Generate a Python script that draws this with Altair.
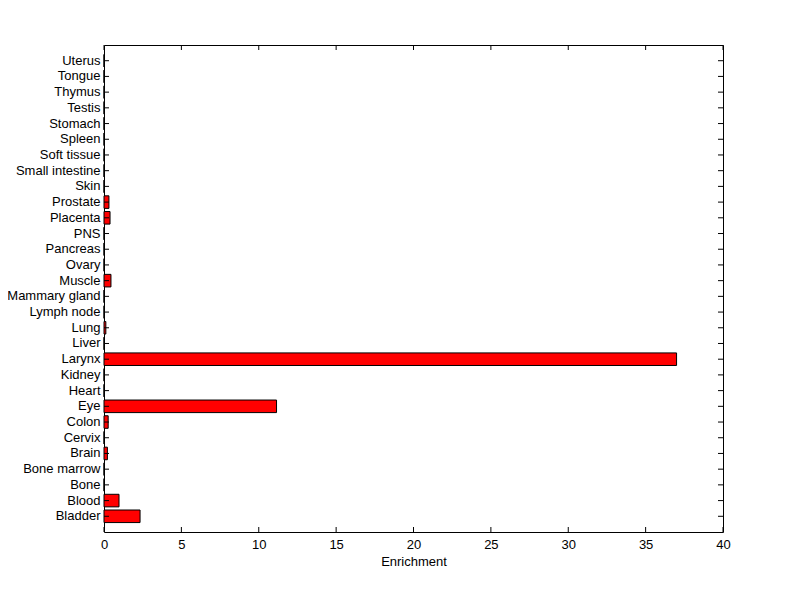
import altair as alt
import pandas as pd

categories = ["Bladder", "Blood", "Bone", "Bone marrow", "Brain", "Cervix", "Colon", "Eye",
              "Heart", "Kidney", "Larynx", "Liver", "Lung", "Lymph node", "Mammary gland",
              "Muscle", "Ovary", "Pancreas", "PNS", "Placenta", "Prostate", "Skin",
              "Small intestine", "Soft tissue", "Spleen", "Stomach", "Testis", "Thymus",
              "Tongue", "Uterus"]
values = [2.33, 0.97, 0, 0, 0.22, 0, 0.27, 11.15,
          0, 0, 37.0, 0, 0.12, 0, 0,
          0.45, 0, 0, 0, 0.39, 0.32, 0,
          0, 0, 0, 0, 0, 0,
          0, 0]
x_ticks = [0, 5, 10, 15, 20, 25, 30, 35, 40]

W, H = 619, 487
FONT = "Liberation Sans"
FS = 13

df = pd.DataFrame({"tissue": categories, "enrichment": values})
tick_df = pd.DataFrame({"t": x_ticks})

order = list(reversed(categories))
yscale = alt.Scale(domain=order, paddingInner=0.2, paddingOuter=0.6)
xscale = alt.Scale(domain=[0, 40], nice=False)

bars = alt.Chart(df).mark_bar(color="#ff0000", stroke="black", strokeWidth=1).encode(
    x=alt.X("enrichment:Q", scale=xscale,
            axis=alt.Axis(values=x_ticks, title="Enrichment", tickSize=0, labelPadding=6,
                          labelFlush=False, labelOverlap=False,
                          domain=False, grid=False, labelFont=FONT, labelFontSize=FS,
                          labelColor="black", titleFont=FONT, titleFontSize=FS,
                          titleFontWeight="normal", titleColor="black", titlePadding=4)),
    y=alt.Y("tissue:N", sort=order, scale=yscale,
            axis=alt.Axis(title=None, tickSize=0, labelPadding=4, domain=False, grid=False,
                          labelFont=FONT, labelFontSize=FS, labelColor="black")),
)

left_ticks = alt.Chart(df).mark_rule(color="black", strokeWidth=1).encode(
    y=alt.Y("tissue:N", sort=order, scale=yscale),
    x=alt.value(0), x2=alt.value(5),
)
right_ticks = alt.Chart(df).mark_rule(color="black", strokeWidth=1).encode(
    y=alt.Y("tissue:N", sort=order, scale=yscale),
    x=alt.value(W - 5), x2=alt.value(W),
)
bottom_ticks = alt.Chart(tick_df).mark_rule(color="black", strokeWidth=1).encode(
    x=alt.X("t:Q", scale=xscale),
    y=alt.value(H - 5), y2=alt.value(H),
)
top_ticks = alt.Chart(tick_df).mark_rule(color="black", strokeWidth=1).encode(
    x=alt.X("t:Q", scale=xscale),
    y=alt.value(0), y2=alt.value(5),
)

chart = alt.layer(bars, left_ticks, right_ticks, bottom_ticks, top_ticks).properties(
    width=W, height=H,
    autosize=alt.AutoSizeParams(type="none"),
    padding={"left": 96, "top": 37, "right": 60, "bottom": 60},
    background="white",
).configure_view(stroke="black", strokeWidth=1)

chart.save("out.html", embed_options={"renderer": "svg", "actions": False})
